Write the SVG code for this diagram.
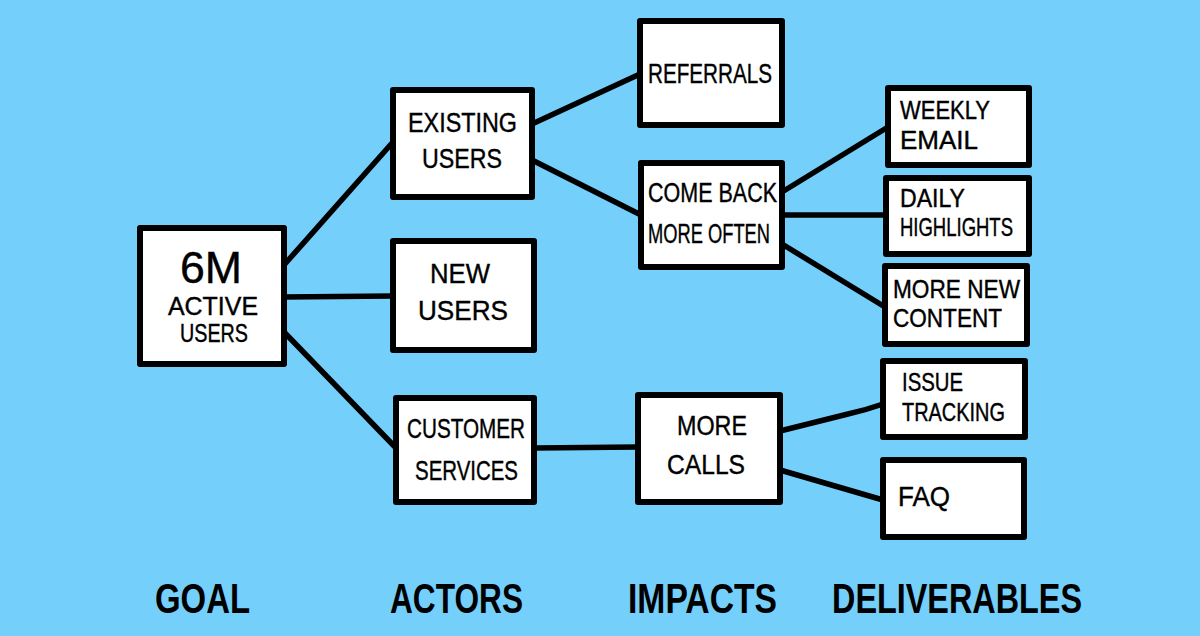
<svg xmlns="http://www.w3.org/2000/svg" width="1200" height="636" viewBox="0 0 1200 636">
<style>
.bg{fill:#74CFFB}
.box{fill:#ffffff;stroke:#000;stroke-width:6;stroke-linejoin:round}
.conn{fill:none;stroke:#000;stroke-width:5.5;stroke-linecap:round;stroke-linejoin:round}
.t{font-family:"Liberation Sans","DejaVu Sans",sans-serif;font-size:28px;fill:#000;stroke:#000;stroke-width:0.4}
.s{font-size:25px}
.big{font-size:45px}
.lbl{font-family:"Liberation Sans","DejaVu Sans",sans-serif;font-size:43px;font-weight:bold;fill:#000}
</style>
<rect class="bg" x="0" y="0" width="1200" height="636"/>
<g id="connectors">
<path class="conn" d="M284 265 L393 142"/>
<path class="conn" d="M284 297 L393 296"/>
<path class="conn" d="M284 332 L396 448"/>
<path class="conn" d="M532 124 L640 74"/>
<path class="conn" d="M532 160 L641 215"/>
<path class="conn" d="M534 448 L638 447"/>
<path class="conn" d="M782 192 L888 127"/>
<path class="conn" d="M782 215 L886 215"/>
<path class="conn" d="M782 244 L885 307"/>
<path class="conn" d="M780 431 L848 414 Q866 410 883 404"/>
<path class="conn" d="M780 470 L883 500"/>
</g>
<g id="goal">
<rect class="box" x="140" y="228" width="144" height="136"/>
<text class="t big" x="180" y="283" textLength="62" lengthAdjust="spacingAndGlyphs">6M</text>
<text class="t s" x="168" y="315" textLength="90" lengthAdjust="spacingAndGlyphs">ACTIVE</text>
<text class="t s" x="180" y="342" textLength="68" lengthAdjust="spacingAndGlyphs">USERS</text>
</g>
<g id="existing-users">
<rect class="box" x="393" y="90" width="139" height="107"/>
<text class="t" x="408" y="132" textLength="109" lengthAdjust="spacingAndGlyphs">EXISTING</text>
<text class="t" x="422" y="168" textLength="80" lengthAdjust="spacingAndGlyphs">USERS</text>
</g>
<g id="new-users">
<rect class="box" x="393" y="241" width="141" height="109"/>
<text class="t" x="430" y="283" textLength="60" lengthAdjust="spacingAndGlyphs">NEW</text>
<text class="t" x="418" y="320" textLength="90" lengthAdjust="spacingAndGlyphs">USERS</text>
</g>
<g id="customer-services">
<rect class="box" x="396" y="398" width="138" height="104"/>
<text class="t" x="407" y="438" textLength="118" lengthAdjust="spacingAndGlyphs">CUSTOMER</text>
<text class="t" x="415" y="480" textLength="103" lengthAdjust="spacingAndGlyphs">SERVICES</text>
</g>
<g id="referrals">
<rect class="box" x="640" y="21" width="142" height="104"/>
<text class="t" x="648" y="83" textLength="124" lengthAdjust="spacingAndGlyphs">REFERRALS</text>
</g>
<g id="come-back">
<rect class="box" x="641" y="163" width="141" height="104"/>
<text class="t" x="648" y="202" textLength="129" lengthAdjust="spacingAndGlyphs">COME BACK</text>
<text class="t" x="648" y="243" textLength="122" lengthAdjust="spacingAndGlyphs">MORE OFTEN</text>
</g>
<g id="more-calls">
<rect class="box" x="638" y="395" width="142" height="107"/>
<text class="t" x="677" y="435" textLength="70" lengthAdjust="spacingAndGlyphs">MORE</text>
<text class="t" x="667" y="474" textLength="78" lengthAdjust="spacingAndGlyphs">CALLS</text>
</g>
<g id="weekly-email">
<rect class="box" x="888" y="88" width="141" height="77"/>
<text class="t s" x="900" y="119" textLength="90" lengthAdjust="spacingAndGlyphs">WEEKLY</text>
<text class="t s" x="900" y="149" textLength="78" lengthAdjust="spacingAndGlyphs">EMAIL</text>
</g>
<g id="daily-highlights">
<rect class="box" x="886" y="178" width="143" height="76"/>
<text class="t s" x="900" y="207" textLength="65" lengthAdjust="spacingAndGlyphs">DAILY</text>
<text class="t s" x="900" y="236" textLength="113" lengthAdjust="spacingAndGlyphs">HIGHLIGHTS</text>
</g>
<g id="more-new-content">
<rect class="box" x="885" y="266" width="142" height="78"/>
<text class="t s" x="893" y="298" textLength="127" lengthAdjust="spacingAndGlyphs">MORE NEW</text>
<text class="t s" x="893" y="327" textLength="109" lengthAdjust="spacingAndGlyphs">CONTENT</text>
</g>
<g id="issue-tracking">
<rect class="box" x="883" y="361" width="142" height="76"/>
<text class="t s" x="902" y="391" textLength="61" lengthAdjust="spacingAndGlyphs">ISSUE</text>
<text class="t s" x="902" y="421" textLength="103" lengthAdjust="spacingAndGlyphs">TRACKING</text>
</g>
<g id="faq">
<rect class="box" x="883" y="460" width="141" height="77"/>
<text class="t" x="898" y="506" textLength="52" lengthAdjust="spacingAndGlyphs">FAQ</text>
</g>
<g id="column-labels">
<text class="lbl" x="155" y="613" textLength="95" lengthAdjust="spacingAndGlyphs">GOAL</text>
<text class="lbl" x="390" y="613" textLength="133" lengthAdjust="spacingAndGlyphs">ACTORS</text>
<text class="lbl" x="628" y="613" textLength="149" lengthAdjust="spacingAndGlyphs">IMPACTS</text>
<text class="lbl" x="832" y="613" textLength="250" lengthAdjust="spacingAndGlyphs">DELIVERABLES</text>
</g>
</svg>
